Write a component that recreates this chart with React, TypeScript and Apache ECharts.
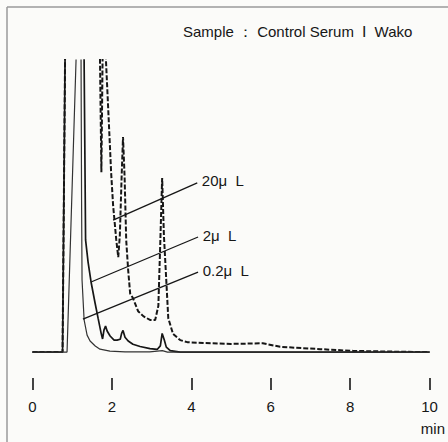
import React, { useEffect, useRef } from "react";
import * as echarts from "echarts";

// Retention time (min) and detector response (relative, 100 = top of recorder scale)
const T_02 = [0, 0.87, 1.097, 1.12, 1.2, 1.223, 1.236, 1.248, 1.3, 1.375, 1.45, 1.58, 1.7, 1.95, 2.33, 2.95, 3.27, 3.4, 10];
const V_02 = [0, 0, 100, 140, 140, 100, 52, 24.7, 11, 5.8, 3.8, 2.1, 1.0, 0.3, 0.1, 0.1, 0.5, 0, 0];

const T_2 = [0, 0.757, 0.82, 0.84, 1.28, 1.3, 1.337, 1.4, 1.475, 1.576, 1.652, 1.728, 1.765, 1.8, 1.84, 1.88, 1.955, 2.055, 2.13, 2.21, 2.245, 2.28, 2.33, 2.41, 2.53, 2.71, 2.96, 3.14, 3.22, 3.266, 3.32, 3.37, 3.47, 3.72, 10];
const V_2 = [0, 0, 100, 140, 140, 100, 38.4, 30.8, 24, 16.8, 11.6, 6.5, 4.5, 7.5, 8.9, 7.2, 5.5, 4.1, 4.1, 4.4, 6.4, 7.4, 5.1, 3.8, 2.7, 1.9, 1.2, 0.9, 2.1, 6.4, 4.1, 1.7, 0.5, 0, 0];

const T_20 = [0, 0.757, 0.82, 0.84, 1.68, 1.7, 1.735, 1.765, 1.78, 1.82, 1.85, 1.92, 1.98, 2.03, 2.11, 2.16, 2.2, 2.245, 2.28, 2.32, 2.36, 2.41, 2.46, 2.53, 2.66, 2.79, 2.96, 3.09, 3.17, 3.22, 3.266, 3.31, 3.42, 3.54, 3.72, 3.9, 4.3, 5.0, 5.8, 6.24, 7.25, 8.08, 9.34, 10];
const V_20 = [0, 0, 100, 140, 140, 100, 61.6, 100, 140, 140, 100, 79.5, 61.6, 50.3, 38.4, 32.5, 40, 60, 73.6, 60, 38.4, 28, 20, 18.5, 14, 12.3, 11, 11, 15.8, 38, 59.6, 40, 11.6, 6.2, 4.1, 3.4, 3.1, 2.8, 3.0, 1.8, 1.0, 0.4, 0.1, 0];

const X_TICKS = [0, 2, 4, 6, 8, 10];
const LABEL_20 = "20μ  L";
const LABEL_2 = "2μ  L";
const LABEL_02 = "0.2μ  L";
const TITLE = "Sample ： Control Serum  Ⅰ  Wako";
const UNIT = "min";

// leader lines [start(time, response), end(time, response)]
const LEAD_20 = [[2.03, 45.2], [4.15, 57.9]];
const LEAD_2 = [[1.475, 24.0], [4.17, 39.4]];
const LEAD_02 = [[1.27, 11.3], [4.17, 27.4]];

const zip = (t: number[], v: number[]) => t.map((x, i) => [x, v[i]]);

const FONT = "'Liberation Sans', Arial, Helvetica, sans-serif";
const INK = "#161616";

function leader(coords: number[][], label: string) {
  return {
    silent: true,
    symbol: ["none", "none"],
    lineStyle: { type: "solid", color: INK, width: 1.3 },
    label: {
      show: true,
      position: "end",
      distance: 5,
      formatter: label,
      color: INK,
      fontSize: 15,
      fontFamily: FONT,
    },
    data: [[{ coord: coords[0] }, { coord: coords[1] }]],
  };
}

export default function App() {
  const ref = useRef<HTMLDivElement>(null);
  useEffect(() => {
    if (!ref.current) return;
    const chart = echarts.init(ref.current, undefined, { renderer: "svg" });
    chart.setOption({
      animation: false,
      backgroundColor: "#fbfbf9",
      grid: [
        { left: 32.5, right: 18.5, top: 60, bottom: 87 },
        { left: 32.5, right: 18.5, top: 300, bottom: 64 },
      ],
      xAxis: [
        { type: "value", gridIndex: 0, min: 0, max: 10, interval: 2, show: false },
        {
          type: "value",
          gridIndex: 1,
          min: 0,
          max: 10,
          interval: 2,
          position: "bottom",
          splitLine: { show: false },
          axisLine: { show: false },
          axisTick: { show: true, inside: false, length: 12, lineStyle: { color: INK, width: 1.6 } },
          axisLabel: {
            margin: 21,
            fontSize: 15,
            color: INK,
            fontFamily: FONT,
            formatter: (v: number) => (X_TICKS.includes(v) ? String(v) : ""),
          },
        },
      ],
      yAxis: [
        { type: "value", gridIndex: 0, min: -1, max: 100, show: false },
        { type: "value", gridIndex: 1, min: 0, max: 1, show: false },
      ],
      series: [
        {
          type: "line",
          xAxisIndex: 0,
          yAxisIndex: 0,
          data: zip(T_20, V_20),
          showSymbol: false,
          clip: true,
          lineStyle: { color: INK, width: 2, type: [5, 2] },
          markLine: leader(LEAD_20, LABEL_20),
          z: 2,
        },
        {
          type: "line",
          xAxisIndex: 0,
          yAxisIndex: 0,
          data: zip(T_2, V_2),
          showSymbol: false,
          clip: true,
          lineStyle: { color: INK, width: 1.7 },
          markLine: leader(LEAD_2, LABEL_2),
          z: 3,
        },
        {
          type: "line",
          xAxisIndex: 0,
          yAxisIndex: 0,
          data: zip(T_02, V_02),
          showSymbol: false,
          clip: true,
          lineStyle: { color: "#333", width: 1.2 },
          markLine: leader(LEAD_02, LABEL_02),
          z: 4,
        },
      ],
      graphic: [
        { type: "line", shape: { x1: 7, y1: 7, x2: 448, y2: 7 }, style: { stroke: "#9a9a9a", lineWidth: 1.5 } },
        { type: "line", shape: { x1: 7, y1: 7, x2: 7, y2: 442 }, style: { stroke: "#9a9a9a", lineWidth: 1.5 } },
        {
          type: "text",
          x: 183,
          y: 31,
          style: { text: TITLE, font: `15px ${FONT}`, fill: INK, textAlign: "left", textVerticalAlign: "middle" },
        },
        {
          type: "text",
          x: 445,
          y: 428,
          style: { text: UNIT, font: `15px ${FONT}`, fill: INK, textAlign: "right", textVerticalAlign: "middle" },
        },
      ],
    });
    return () => chart.dispose();
  }, []);
  return <div ref={ref} style={{ position: "absolute", left: 0, top: 0, width: 448, height: 442 }} />;
}
